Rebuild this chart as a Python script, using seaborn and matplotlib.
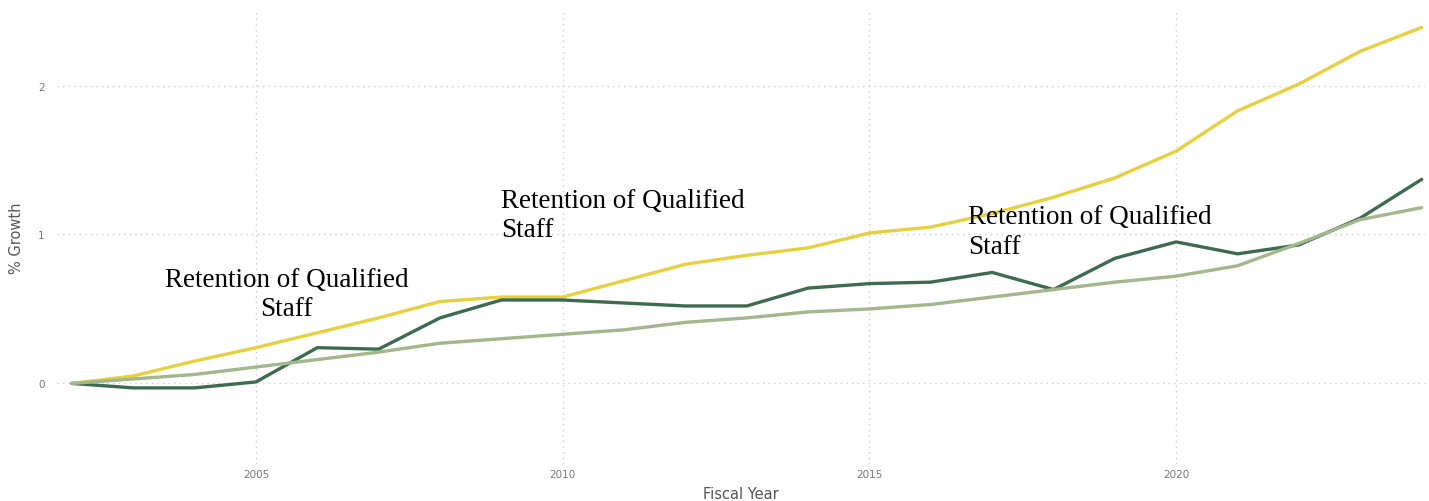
import pandas as pd
import matplotlib.pyplot as plt
import seaborn as sns

# Anos fiscais e séries de crescimento
anos = list(range(2002, 2025))

crescimento_amarelo = [0.00, 0.05, 0.15, 0.24, 0.34, 0.44, 0.55, 0.58, 0.58, 0.69, 0.80, 0.86,
                       0.91, 1.01, 1.05, 1.14, 1.25, 1.38, 1.56, 1.83, 2.01, 2.23, 2.39]
crescimento_verde_escuro = [0.00, -0.03, -0.03, 0.01, 0.24, 0.23, 0.44, 0.56, 0.56, 0.54, 0.52, 0.52,
                            0.64, 0.67, 0.68, 0.745, 0.63, 0.84, 0.95, 0.87, 0.93, 1.11, 1.37]
crescimento_verde_claro = [0.00, 0.03, 0.06, 0.11, 0.16, 0.21, 0.27, 0.30, 0.33, 0.36, 0.41, 0.44,
                           0.48, 0.50, 0.53, 0.58, 0.63, 0.68, 0.72, 0.79, 0.94, 1.10, 1.18]

series = ["Serie 1", "Serie 2", "Serie 3"]
cores = ["#E6D03E", "#3D6B4E", "#A2B78B"]

anotacoes = [
    ("Retention of Qualified\nStaff", 2005.5, 0.60, "center"),
    ("Retention of Qualified\nStaff", 2009.0, 1.13, "left"),
    ("Retention of Qualified\nStaff", 2016.6, 1.02, "left"),
]

# Tabela longa para o seaborn
df = pd.DataFrame({
    "ano": anos * 3,
    "crescimento": crescimento_amarelo + crescimento_verde_escuro + crescimento_verde_claro,
    "serie": [series[0]] * len(anos) + [series[1]] * len(anos) + [series[2]] * len(anos),
})

sns.set_style("white")

fig = plt.figure(figsize=(14.29, 5.02), dpi=100)
ax = fig.add_axes([0.040, 0.074, 0.957, 0.902])

sns.lineplot(data=df, x="ano", y="crescimento", hue="serie", palette=cores,
             hue_order=series, linewidth=2.4, legend=False, ax=ax)

ax.set_xlim(2001.76, 2024.05)
ax.set_ylim(-0.54, 2.5)
ax.set_xticks([2005, 2010, 2015, 2020])
ax.set_yticks([0, 1, 2])
ax.grid(True, linestyle=(0, (1, 3)), color="#cccccc", linewidth=1)
for s in ax.spines.values():
    s.set_visible(False)
ax.tick_params(axis="both", length=0, labelsize=7.5, colors="#777777")
ax.tick_params(axis="x", pad=4)
ax.tick_params(axis="y", pad=9)

ax.set_xlabel("Fiscal Year", fontsize=10.5, color="#555555", labelpad=5)
ax.set_ylabel("% Growth", fontsize=10.5, color="#555555", labelpad=10)

for texto, x, y, alinh in anotacoes:
    ax.text(x, y, texto, fontsize=19.5, family="Liberation Serif", color="black",
            ha=alinh, va="center", multialignment=alinh, linespacing=1.25)

plt.savefig("out.png", dpi=100)
plt.close()
